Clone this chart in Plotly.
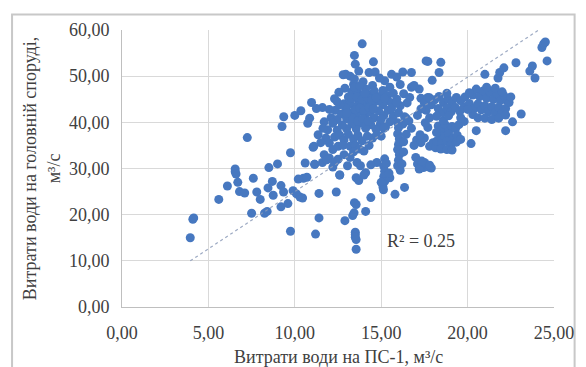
import plotly.graph_objects as go

# Flow at PS-1 (m3/s) and at head structure (m3/s)
ps1_flow = [
    3.95, 4.1, 4.15, 5.6, 6.1, 6.55, 6.55, 6.6, 6.7, 6.8, 7.1, 7.25, 7.6, 7.5, 7.8, 8.0, 8.25, 8.4,
    8.5, 8.45, 8.7, 8.75, 9.0, 9.2, 9.2, 9.35, 9.6, 9.26, 9.36, 9.75, 9.75, 9.9, 10.1, 10.3, 10.45,
    10.2, 10.5, 10.7, 10.0, 10.35, 10.75, 10.97, 11.06, 11.15, 11.4, 11.4, 11.2, 10.6, 10.86,
    # dense upper cluster
    13.9, 13.45, 13.5, 14.55, 13.7, 14.3, 14.65, 12.95, 13.2, 12.8, 15.6, 16.25, 16.75, 15.9, 15.2,
    14.9, 13.95, 13.45, 14.5, 15.5, 16.1, 16.75, 12.9, 13.4, 12.55, 12.3, 12.85, 13.1, 13.3, 13.6,
    13.85, 14.1, 14.3, 14.6, 14.9, 15.1, 15.35, 15.7, 15.9, 16.3, 16.65, 16.5, 16.1, 15.75, 15.4,
    15.1, 14.8, 14.5, 14.2, 13.95, 13.7, 13.45, 13.2, 12.95, 12.6, 12.35, 12.0, 11.6, 11.25, 11.7,
    12.1, 12.45, 12.7, 13.0, 13.25, 13.55, 13.8, 14.05, 14.35, 14.6, 14.85, 15.15, 15.4, 15.7, 16.0,
    16.35, 16.6, 16.25, 15.95, 15.5, 15.25, 14.95, 14.7, 14.4, 14.1, 13.85, 13.55, 13.3, 13.0, 12.75,
    12.45, 12.2, 11.9, 11.63, 11.35, 11.8, 12.0, 12.3, 12.6, 12.85, 13.1, 13.4, 13.65, 13.9, 14.2,
    14.5, 14.75, 13.2, 13.5, 13.75, 14.0, 13.4, 12.2, 12.5, 12.8, 11.1, 11.5, 11.7, 12.0, 12.3, 12.5,
    12.85, 13.2, 11.15, 11.6, 13.05, 13.6, 13.8, 14.1, 13.55, 13.7, 14.0, 12.6, 11.85, 12.2,
    13.3, 13.6, 13.9, 14.2, 14.45, 14.7, 13.5, 13.75, 14.0, 14.3, 14.55, 13.35, 13.65, 13.95, 14.25,
    13.45, 13.75, 14.05, 15.2, 15.6, 15.0, 14.3, 13.0, 12.45, 14.75, 14.4, 15.15, 15.0, 16.45, 15.9,
    # streaks near 15 and 16
    15.2, 15.15, 15.2, 15.15, 15.2, 15.1, 15.0, 15.5, 15.45, 15.3, 15.13,
    16.0, 15.95, 16.05, 16.0, 15.95, 16.05, 16.0, 15.95, 16.1, 16.2, 16.3, 16.45, 16.3, 15.8, 16.35,
    # lower scattered points
    12.4, 12.9, 13.35, 13.43, 13.45, 13.55, 13.5, 13.5, 13.5, 13.55, 13.55, 14.1, 14.4, 12.6,
    # 17-18 area
    17.1, 17.3, 17.45, 17.6, 17.75, 17.9, 17.2, 17.5, 17.8, 17.35, 17.0,
    16.75, 17.05, 17.3, 17.5, 17.8, 17.7, 17.25, 16.9, 17.55, 18.0, 18.15,
    # sub-cluster 18-19.5
    18.3, 18.5, 18.7, 18.9, 19.1, 19.3, 18.4, 18.65, 18.9, 19.15, 19.4, 18.2, 18.5, 18.8, 19.05,
    19.35, 19.6, 18.45, 18.8, 19.1, 18.2, 19.5, 19.8, 18.6,
    # right band
    17.3, 17.5, 17.7, 17.9, 17.6, 17.3, 17.1, 17.8, 18.1, 18.35, 18.6, 18.85, 19.1, 19.35, 19.6,
    19.85, 18.3, 18.55, 18.8, 19.05, 19.3, 19.55, 19.8, 18.2, 18.9, 19.6, 20.1, 20.3, 20.5, 20.7,
    20.9, 21.1, 21.3, 21.5, 21.7, 21.9, 22.1, 22.3, 20.4, 20.6, 20.8, 21.0, 21.2, 21.4, 21.6, 21.8,
    22.0, 22.2, 22.4, 20.3, 20.6, 21.0, 21.4, 21.8, 22.2, 22.6, 22.2, 23.1, 20.5, 20.2, 21.1, 21.6,
    22.0, 22.5, 20.0, 20.1,
    17.95, 18.35, 17.6, 17.7, 18.45, 17.2, 18.8, 16.9, 17.8,
    # top right
    21.0, 21.76, 21.86, 22.1, 22.8, 23.6, 23.75, 23.9, 24.3, 24.4, 24.5, 24.6,
]

head_flow = [
    15.0, 19.0, 19.3, 23.3, 26.2, 29.9, 29.3, 28.8, 27.0, 25.0, 24.7, 36.7, 27.9, 20.3, 24.9, 23.3,
    20.3, 20.7, 30.2, 25.8, 27.2, 24.2, 31.0, 26.3, 21.7, 24.9, 22.4, 39.1, 41.2, 33.4, 16.4, 25.2,
    24.5, 23.8, 23.6, 27.7, 27.9, 28.1, 41.5, 42.5, 39.8, 44.3, 34.6, 30.9, 24.6, 19.3, 15.8, 31.2,
    40.9,
    # dense upper cluster
    57.0, 54.5, 52.6, 53.1, 51.1, 50.8, 50.9, 50.4, 50.0, 50.3, 50.4, 50.9, 50.8, 49.8, 49.0,
    49.6, 48.8, 49.4, 48.0, 47.6, 48.2, 47.6, 47.4, 48.2, 46.5, 45.1, 44.0, 45.5, 46.6, 46.9,
    45.7, 47.2, 46.0, 46.8, 45.6, 46.9, 45.8, 46.3, 45.0, 46.2, 45.4, 44.2, 43.6, 44.2, 44.7,
    43.8, 44.6, 43.5, 44.6, 43.6, 44.4, 43.3, 44.1, 43.1, 43.8, 42.6, 42.8, 43.2, 43.0, 40.1,
    41.0, 40.6, 41.8, 40.8, 42.0, 41.3, 42.4, 41.1, 42.2, 41.0, 42.5, 41.5, 42.6, 41.3, 42.1,
    41.2, 40.3, 39.6, 39.9, 40.1, 39.0, 39.6, 38.5, 39.5, 38.7, 39.8, 38.6, 39.7, 38.6, 39.4,
    38.3, 39.8, 38.4, 38.7, 37.3, 36.6, 35.5, 36.8, 37.2, 36.2, 37.4, 36.4, 37.2, 36.0, 37.0,
    36.6, 37.3, 34.8, 35.0, 34.2, 33.8, 33.6, 34.1, 34.8, 35.0, 34.8, 35.6, 33.0, 32.3, 31.3, 32.0,
    33.0, 32.4, 30.9, 31.3, 30.6, 31.3, 30.6, 29.1, 28.0, 27.4, 28.6, 28.6, 31.9, 30.3,
    45.2, 45.5, 44.9, 45.4, 44.8, 45.3, 42.8, 43.1, 42.6, 43.2, 42.9, 40.9, 40.3, 40.8, 40.3,
    47.6, 47.9, 46.3, 45.2, 43.1, 40.7, 35.0, 42.0, 44.5, 31.3, 30.8, 38.7, 37.0, 40.9, 44.3,
    # streaks near 15 and 16
    32.1, 30.5, 29.4, 28.3, 27.2, 26.0, 27.0, 28.0, 29.0, 31.1, 25.4,
    38.8, 37.5, 36.4, 35.2, 34.1, 33.0, 31.8, 30.6, 29.6, 31.0, 33.6, 37.4, 35.8, 24.4, 25.9,
    # lower scattered points
    24.9, 18.7, 19.8, 20.4, 22.6, 22.2, 16.2, 15.7, 15.1, 14.6, 12.5, 20.7, 23.7, 28.6,
    # 17-18 area
    31.0, 30.6, 30.2, 30.9, 30.3, 30.1, 29.9, 31.3, 30.7, 31.6, 32.4,
    38.7, 36.2, 35.6, 36.6, 34.8, 38.9, 37.3, 35.0, 39.9, 35.6, 34.5,
    # sub-cluster 18-19.5
    39.2, 38.4, 39.5, 38.0, 39.1, 38.6, 37.1, 36.7, 37.4, 36.5, 37.2, 35.9, 35.4, 35.9, 35.2,
    35.7, 36.3, 34.2, 34.1, 34.0, 37.8, 39.5, 40.2, 40.4,
    # right band
    45.2, 44.2, 45.4, 43.8, 42.6, 42.9, 41.5, 41.0, 44.9, 45.6, 44.3, 45.1, 44.2, 45.4, 44.7,
    45.5, 43.0, 42.1, 43.1, 42.3, 43.2, 42.4, 43.3, 41.3, 41.4, 41.0, 44.1, 45.9, 47.2, 45.6,
    46.8, 45.2, 46.5, 45.0, 46.2, 44.7, 45.8, 44.6, 43.1, 44.0, 42.7, 43.6, 42.3, 43.4, 42.1, 43.3,
    42.1, 43.0, 44.3, 41.7, 41.0, 40.9, 40.6, 40.9, 41.6, 40.1, 38.2, 41.8, 38.2, 35.4, 47.6, 47.4,
    46.6, 45.5, 42.8, 46.4,
    49.1, 50.8, 53.3, 53.2, 53.0, 47.2, 46.3, 48.0, 45.3,
    # top right
    50.4, 49.6, 50.8, 51.8, 52.9, 51.1, 52.2, 49.6, 56.2, 57.0, 57.4, 53.3,
]

trend_slope = 2.48
trend_intercept = 0.2
r2_label = "R² = 0.25"
x_ticks = [0, 5, 10, 15, 20, 25]
y_ticks = [0, 10, 20, 30, 40, 50, 60]
x_title = "Витрати води на ПС-1, м³/с"
y_title = "Витрати води на головній споруді,<br>м³/с"

FONT = "Liberation Serif, Times New Roman, serif"
TXT = "#404040"

x_min, x_max = min(ps1_flow), max(ps1_flow)
trend_x = [x_min, x_max]
trend_y = [trend_slope * v + trend_intercept for v in trend_x]

fig = go.Figure()
fig.add_trace(go.Scatter(
    x=ps1_flow, y=head_flow, mode="markers",
    marker=dict(size=9, color="#4778C0", line=dict(width=0)),
    showlegend=False, hoverinfo="skip",
))
fig.add_trace(go.Scatter(
    x=trend_x, y=trend_y, mode="lines",
    line=dict(color="rgba(140,155,185,0.85)", width=1.2, dash="dot"),
    showlegend=False, hoverinfo="skip",
))

axis_common = dict(
    showgrid=True, gridcolor="#d9d9d9", gridwidth=1,
    zeroline=False, showline=True, linecolor="#bfbfbf", linewidth=1,
    ticks="outside", tickcolor="rgba(0,0,0,0)",
    tickfont=dict(family=FONT, size=18, color=TXT),
    tickformat=".2f",
)
fig.update_xaxes(range=[0, 25], tickvals=x_ticks, ticklen=9, **axis_common)
fig.update_yaxes(range=[0, 60], tickvals=y_ticks, ticklen=8, **axis_common)

# page body adds an 8px offset; margins compensate so the plot area sits at 122..562 x 25..307
fig.update_layout(
    width=578, height=359,
    margin=dict(l=114, r=24, t=17, b=60),
    paper_bgcolor="white", plot_bgcolor="white",
    separators=", ",
    font=dict(family=FONT, size=18, color=TXT),
    annotations=[
        dict(text=x_title, xref="paper", yref="paper", x=0.5, y=-0.18,
             xanchor="center", yanchor="middle", showarrow=False,
             font=dict(family=FONT, size=18, color=TXT)),
        dict(text=y_title, xref="paper", yref="paper", x=-0.186, y=0.5,
             xanchor="center", yanchor="middle", showarrow=False, textangle=-90,
             font=dict(family=FONT, size=18, color=TXT)),
        dict(text=r2_label, xref="paper", yref="paper", x=0.693, y=0.238,
             xanchor="center", yanchor="middle", showarrow=False,
             font=dict(family=FONT, size=18, color=TXT)),
    ],
    shapes=[
        dict(type="rect", xref="paper", yref="paper",
             x0=-0.2545, x1=1.0477, y0=-0.26, y1=1.056,
             line=dict(color="#c8c8c8", width=2), layer="below"),
    ],
)

fig.write_html("out.html")
